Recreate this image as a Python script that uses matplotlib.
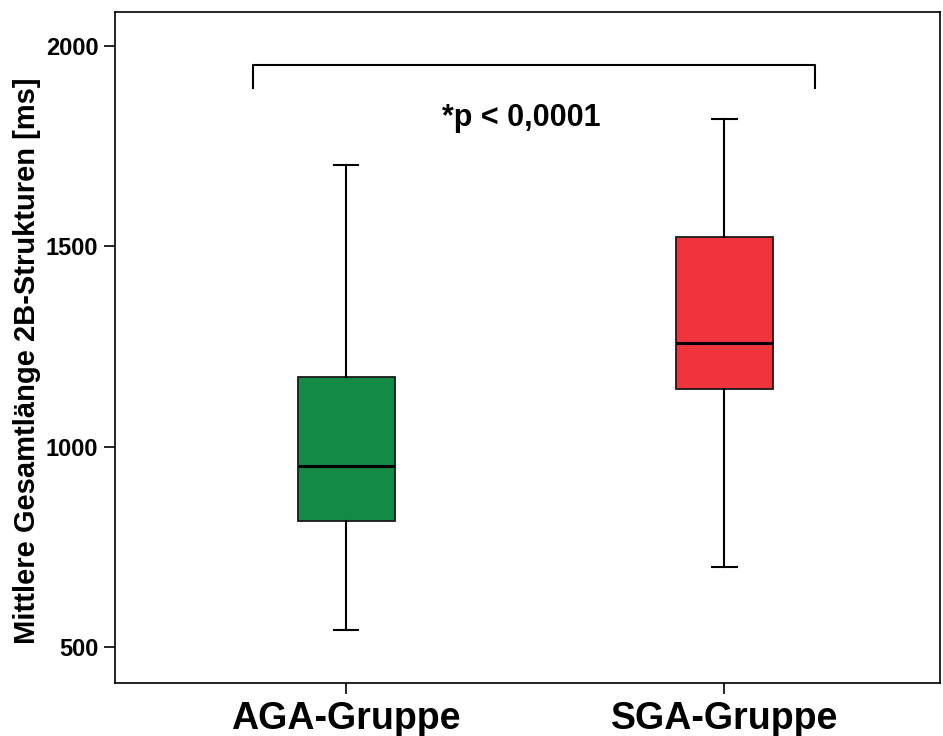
import matplotlib
matplotlib.use('Agg')
import matplotlib.pyplot as plt

plt.rcParams['font.family'] = ['Liberation Sans', 'DejaVu Sans']
plt.rcParams['font.weight'] = 'bold'

gruppen = ['AGA-Gruppe', 'SGA-Gruppe']
whisker_low = [544, 701]
q1 = [815, 1145]
median = [953, 1259]
q3 = [1175, 1524]
whisker_high = [1703, 1818]
farben = ['#138a45', '#f0343c']

stats = []
for i in range(len(gruppen)):
    stats.append({'label': gruppen[i], 'whislo': whisker_low[i], 'q1': q1[i],
                  'med': median[i], 'q3': q3[i], 'whishi': whisker_high[i], 'fliers': []})

fig = plt.figure(figsize=(9.43, 7.36), dpi=100)
ax = fig.add_axes([0.122, 0.072, 0.875, 0.912])

bp = ax.bxp(stats, positions=[1, 2], widths=0.257, patch_artist=True, showfliers=False,
            boxprops=dict(edgecolor='#1a1a1a', linewidth=1.3),
            medianprops=dict(color='black', linewidth=2.2),
            whiskerprops=dict(color='black', linewidth=1.5),
            capprops=dict(color='black', linewidth=1.5),
            capwidths=0.065)
for patch, c in zip(bp['boxes'], farben):
    patch.set_facecolor(c)

# Signifikanz-Klammer
ax.plot([0.754, 0.754, 2.241, 2.241], [1895, 1953, 1953, 1895], color='black', lw=1.5)
ax.text(1.463, 1820, '*p < 0,0001', ha='center', va='center', fontsize=22, fontweight='bold')

ax.set_xlim(0.389, 2.571)
ax.set_ylim(411, 2085)
ax.set_yticks([500, 1000, 1500, 2000])
ax.tick_params(axis='y', labelsize=17, length=8, width=1.2, pad=4)
ax.tick_params(axis='x', labelsize=27, length=8, width=1.2, pad=5)
for s in ax.spines.values():
    s.set_linewidth(1.2)
ax.set_ylabel('Mittlere Gesamtlänge 2B-Strukturen [ms]', fontsize=21, fontweight='bold')
ax.yaxis.set_label_coords(-0.09, 0.48)

fig.savefig('out.png', dpi=100)
